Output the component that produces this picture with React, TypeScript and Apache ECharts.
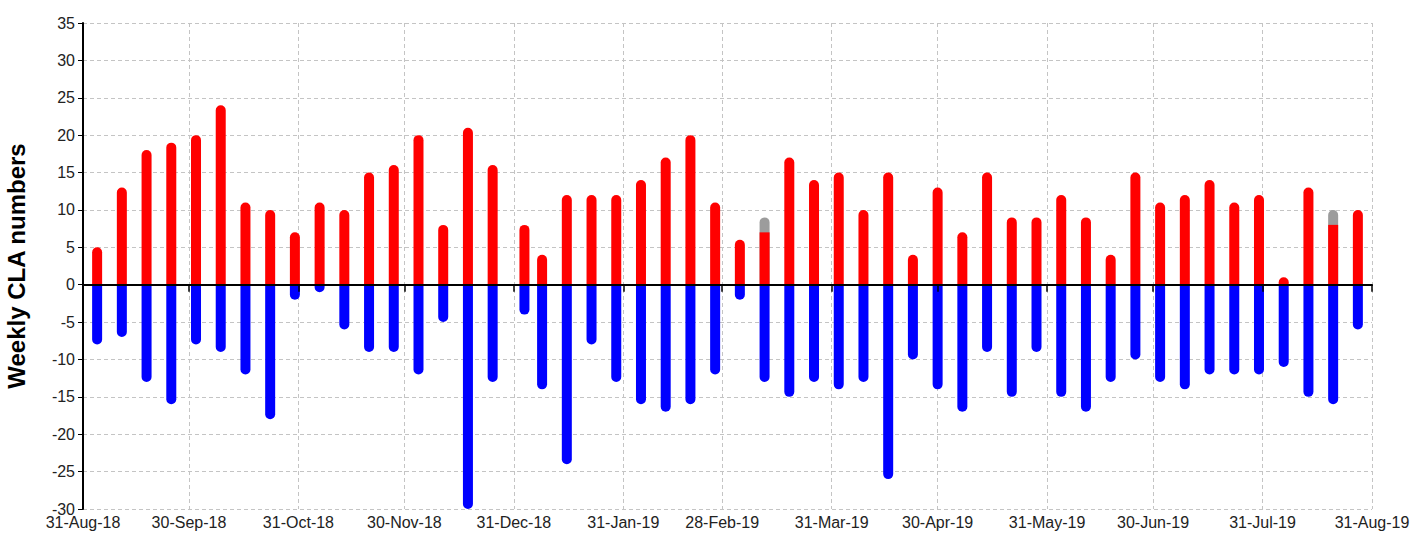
import React, { useEffect, useRef } from 'react';
import * as echarts from 'echarts';

// Week dates (Tuesdays; New Year week shifted)
const weekDates = [
  '2018-09-04', '2018-09-11', '2018-09-18', '2018-09-25',
  '2018-10-02', '2018-10-09', '2018-10-16', '2018-10-23', '2018-10-30',
  '2018-11-06', '2018-11-13', '2018-11-20', '2018-11-27',
  '2018-12-04', '2018-12-11', '2018-12-18', '2018-12-25',
  '2019-01-03', '2019-01-08', '2019-01-15', '2019-01-22', '2019-01-29',
  '2019-02-05', '2019-02-12', '2019-02-19', '2019-02-26',
  '2019-03-05', '2019-03-12', '2019-03-19', '2019-03-26',
  '2019-04-02', '2019-04-09', '2019-04-16', '2019-04-23', '2019-04-30',
  '2019-05-07', '2019-05-14', '2019-05-21', '2019-05-28',
  '2019-06-04', '2019-06-11', '2019-06-18', '2019-06-25',
  '2019-07-02', '2019-07-09', '2019-07-16', '2019-07-23', '2019-07-30',
  '2019-08-06', '2019-08-13', '2019-08-20', '2019-08-27',
];

const claRed = [
  5, 13, 18, 19, 20, 24, 11, 10, 7, 11, 10, 15, 16, 20, 8, 21,
  16, 8, 4, 12, 12, 12, 14, 17, 20, 11, 6, 7, 17, 14, 15, 10, 15, 4, 13,
  7, 15, 9, 9, 12, 9, 4, 15, 11, 12, 14, 11, 12, 1, 13, 8, 10,
];

const claGrey = [
  0, 0, 0, 0, 0, 0, 0, 0, 0, 0, 0, 0, 0, 0, 0, 0,
  0, 0, 0, 0, 0, 0, 0, 0, 0, 0, 0, 2, 0, 0, 0, 0, 0, 0, 0,
  0, 0, 0, 0, 0, 0, 0, 0, 0, 0, 0, 0, 0, 0, 0, 2, 0,
];

const claBlue = [
  -8, -7, -13, -16, -8, -9, -12, -18, -2, -1, -6, -9, -9, -12, -5, -31,
  -13, -4, -14, -24, -8, -13, -16, -17, -16, -12, -2, -13, -15, -13, -14, -13, -26, -10, -14,
  -17, -9, -15, -9, -15, -17, -13, -10, -13, -14, -12, -12, -12, -11, -15, -16, -6,
];

const monthEndTicks = [
  '2018-08-31', '2018-09-30', '2018-10-31', '2018-11-30', '2018-12-31',
  '2019-01-31', '2019-02-28', '2019-03-31', '2019-04-30', '2019-05-31',
  '2019-06-30', '2019-07-31', '2019-08-31',
];

const yMin = -30;
const yMax = 35;
const yStep = 5;
const yTitle = 'Weekly CLA numbers';

const MONTHS = ['Jan', 'Feb', 'Mar', 'Apr', 'May', 'Jun', 'Jul', 'Aug', 'Sep', 'Oct', 'Nov', 'Dec'];

const toTs = (s: string) => {
  const [y, m, d] = s.split('-').map(Number);
  return Date.UTC(y, m - 1, d);
};
const fmtDate = (v: number) => {
  const d = new Date(v);
  return `${d.getUTCDate()}-${MONTHS[d.getUTCMonth()]}-${String(d.getUTCFullYear()).slice(2)}`;
};

const FONT = '"Liberation Sans", Arial, sans-serif';

export default function App() {
  const ref = useRef<HTMLDivElement>(null);

  useEffect(() => {
    if (!ref.current) return;
    const chart = echarts.init(ref.current, undefined, { renderer: 'svg' });
    const ticks = monthEndTicks.map(toTs);
    const xMin = ticks[0];
    const xMax = ticks[ticks.length - 1];
    const gridColor = '#c4c4c4';

    // grey sits on top of red: its bar reaches red + grey, drawn behind the red one
    const greyData = weekDates.map((d, i) =>
      claGrey[i] > 0 ? [toTs(d), claRed[i] + claGrey[i]] : [toTs(d), '-']
    );
    const redData = weekDates.map((d, i) => ({
      value: [toTs(d), claRed[i]],
      itemStyle: claGrey[i] > 0 ? { borderRadius: 0 } : undefined,
    }));
    const blueData = weekDates.map((d, i) => [toTs(d), claBlue[i]]);

    chart.setOption({
      animation: false,
      textStyle: { fontFamily: FONT },
      grid: {
        left: 83,
        right: 42,
        top: 23,
        bottom: 26,
        containLabel: false,
        outerBoundsMode: 'none',
      },
      xAxis: [
        {
          type: 'value',
          min: xMin,
          max: xMax,
          position: 'bottom',
          axisLine: { show: false, onZero: false },
          axisTick: { show: false, customValues: ticks },
          axisLabel: {
            customValues: ticks,
            formatter: (v: number) => fmtDate(v),
            fontSize: 16,
            color: '#222',
            margin: 5,
            fontFamily: FONT,
            showMinLabel: true,
            showMaxLabel: true,
          },
          splitLine: { show: true, lineStyle: { color: gridColor, type: [4, 3], width: 1 } },
        },
        {
          type: 'value',
          min: xMin,
          max: xMax,
          position: 'top',
          z: 5,
          axisLine: { show: true, onZero: true, lineStyle: { color: '#000', width: 2 } },
          axisTick: { show: true, inside: true, length: 7, customValues: ticks, lineStyle: { color: '#000', width: 1.5 } },
          axisLabel: { show: false },
          splitLine: { show: false },
        },
      ],
      yAxis: {
        type: 'value',
        min: yMin,
        max: yMax,
        interval: yStep,
        name: yTitle,
        nameLocation: 'middle',
        nameGap: 55,
        nameTextStyle: { fontSize: 24, fontWeight: 'bold', color: '#000', fontFamily: FONT },
        axisLine: { show: true, onZero: false, lineStyle: { color: '#000', width: 2 } },
        axisTick: { show: true, length: 5, lineStyle: { color: '#000' } },
        axisLabel: { fontSize: 16, color: '#222', margin: 8, fontFamily: FONT },
        splitLine: { show: true, lineStyle: { color: gridColor, type: [4, 3], width: 1 } },
      },
      series: [
        {
          name: 'CLA grey',
          type: 'bar',
          xAxisIndex: 0,
          barWidth: 10,
          barGap: '-100%',
          data: greyData,
          itemStyle: { color: '#9c9c9c', borderRadius: [5, 5, 0, 0] },
        },
        {
          name: 'CLA red',
          type: 'bar',
          xAxisIndex: 0,
          barWidth: 10,
          barGap: '-100%',
          data: redData,
          itemStyle: { color: '#ff0000', borderRadius: [5, 5, 0, 0] },
        },
        {
          name: 'CLA blue',
          type: 'bar',
          xAxisIndex: 0,
          barWidth: 10,
          barGap: '-100%',
          data: blueData,
          itemStyle: { color: '#0000ff', borderRadius: [0, 0, 5, 5] },
        },
      ],
    });

    return () => chart.dispose();
  }, []);

  return (
    <div
      ref={ref}
      style={{ position: 'fixed', left: 0, top: 0, width: 1414, height: 535, background: '#fff' }}
    />
  );
}
